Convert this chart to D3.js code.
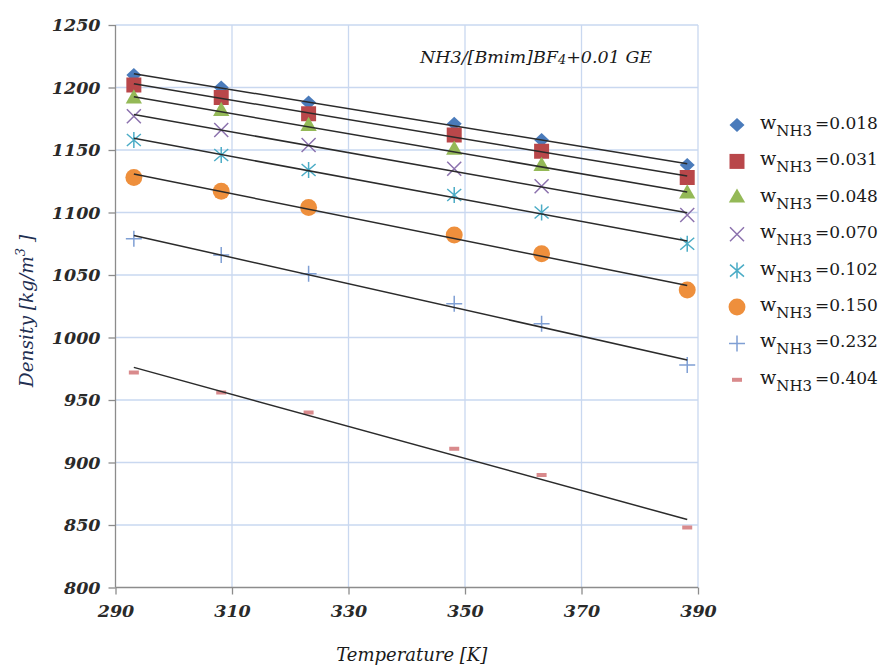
<!DOCTYPE html>
<html><head><meta charset="utf-8">
<script src="https://cdn.jsdelivr.net/npm/d3@7"></script>
<style>body{margin:0;background:#fff}svg{display:block}</style>
</head><body>
<svg id="c" width="880" height="668"></svg>
<script>
const temperatures = [293.15, 308.15, 323.15, 348.15, 363.15, 388.15];
const fractions = ["0.018", "0.031", "0.048", "0.070", "0.102", "0.150", "0.232", "0.404"];
const w018 = [1210, 1200, 1188, 1171, 1158, 1138];
const w031 = [1202, 1192, 1179, 1162, 1149, 1128];
const w048 = [1191, 1181, 1169, 1150, 1137, 1115];
const w070 = [1177, 1166, 1154, 1135, 1121, 1098];
const w102 = [1158, 1146, 1134, 1114, 1100, 1075];
const w150 = [1128, 1117, 1104, 1082, 1067, 1038];
const w232 = [1079, 1066, 1051, 1027, 1011, 978];
const w404 = [972, 956, 940, 911, 890, 848];
const xTicks = [290, 310, 330, 350, 370, 390];
const yTicks = [800, 850, 900, 950, 1000, 1050, 1100, 1150, 1200, 1250];
const seriesValues = [w018, w031, w048, w070, w102, w150, w232, w404];
const colors = ["#4a7bbb", "#b9474a", "#94b957", "#8c72ae", "#4bacc6", "#ee8f3c", "#7f9fd4", "#d98a8c"];
const shapes = ["diamond", "square", "triangle", "x", "star", "circle", "plus", "dash"];

const svg = d3.select("#c");
const L = 115.5, R = 698, T = 25, B = 587.5;
const x = d3.scaleLinear().domain([290, 390]).range([L, R]);
const y = d3.scaleLinear().domain([800, 1250]).range([B, T]);
const grid = "#c9d8f0";

// gridlines
svg.append("g").selectAll("line").data(yTicks.filter(d => d > 800)).join("line")
  .attr("x1", L).attr("x2", R).attr("y1", d => y(d)).attr("y2", d => y(d))
  .attr("stroke", grid).attr("stroke-width", 1.3);
svg.append("g").selectAll("line").data(xTicks.filter(d => d > 290)).join("line")
  .attr("y1", T).attr("y2", B).attr("x1", d => x(d)).attr("x2", d => x(d))
  .attr("stroke", grid).attr("stroke-width", 1.3);

const tickFont = "'DejaVu Serif', serif";
const yAxis = svg.append("g").attr("transform", `translate(${L},0)`)
  .call(d3.axisLeft(y).tickValues(yTicks).tickSize(7).tickPadding(8).tickFormat(d3.format("d")));
const xAxis = svg.append("g").attr("transform", `translate(0,${B})`)
  .call(d3.axisBottom(x).tickValues(xTicks).tickSize(7).tickPadding(10).tickFormat(d3.format("d")));
[yAxis, xAxis].forEach(a => {
  a.select(".domain").attr("stroke", "#8c8c8c").attr("stroke-width", 1.3);
  a.selectAll(".tick line").attr("stroke", "#8c8c8c").attr("stroke-width", 1.3);
  a.selectAll(".tick text").attr("font-family", tickFont).attr("font-size", 17.5)
    .attr("font-weight", "bold").attr("font-style", "italic").attr("fill", "#2a2a2a");
});
xAxis.select(".domain").attr("d", `M${L},0H${R}`);
yAxis.select(".domain").attr("d", `M0,${B}V${T}`);

// axis titles
svg.append("text").attr("x", (L + R) / 2 + 5).attr("y", 661).attr("text-anchor", "middle")
  .attr("font-family", tickFont).attr("font-style", "italic").attr("font-size", 18)
  .attr("fill", "#1a1a1a").text("Temperature [K]");
const yt = svg.append("text").attr("transform", "translate(33,311) rotate(-90)").attr("text-anchor", "middle")
  .attr("font-family", tickFont).attr("font-style", "italic").attr("font-size", 18.5).attr("fill", "#1f2f52");
yt.append("tspan").text("Density [kg/m");
yt.append("tspan").attr("dy", -8).attr("font-size", 13).text("3");
yt.append("tspan").attr("dy", 8).text(" ]");

// chart title
const tt = svg.append("text").attr("x", 420).attr("y", 63)
  .attr("font-family", tickFont).attr("font-style", "italic").attr("font-size", 17.5).attr("fill", "#1a1a1a");
tt.append("tspan").text("NH3/[Bmim]BF");
tt.append("tspan").attr("font-size", 13).attr("dy", 1).text("4");
tt.append("tspan").attr("dy", -1).text("+0.01 GE");

// markers
function drawMarker(g, shape, color) {
  const sym = {square: [d3.symbolSquare, 225], triangle: [d3.symbolTriangle, 115], circle: [d3.symbolCircle, 225]};
  if (sym[shape]) {
    g.append("path").attr("d", d3.symbol().type(sym[shape][0]).size(sym[shape][1])()).attr("fill", color);
  } else if (shape === "diamond") {
    g.append("path").attr("d", "M0,-7L7.5,0L0,7L-7.5,0Z").attr("fill", color);
  } else if (shape === "x") {
    g.append("path").attr("d", "M-7,-7L7,7M-7,7L7,-7").attr("stroke", color).attr("stroke-width", 1.5);
  } else if (shape === "star") {
    g.append("path").attr("d", "M-7,-6L7,6M-7,6L7,-6M0,-8V8").attr("stroke", color).attr("stroke-width", 1.5);
  } else if (shape === "plus") {
    g.append("path").attr("d", "M-8,0H8M0,-8V8").attr("stroke", color).attr("stroke-width", 1.5);
  } else if (shape === "dash") {
    g.append("rect").attr("x", -5).attr("y", -2).attr("width", 10).attr("height", 4).attr("fill", color);
  }
}

seriesValues.forEach((vals, i) => {
  const g = svg.append("g");
  vals.forEach((v, j) => {
    const m = g.append("g").attr("transform", `translate(${x(temperatures[j])},${y(v)})`);
    drawMarker(m, shapes[i], colors[i]);
  });
});

// linear trend lines (least squares fits of each series)
seriesValues.forEach(vals => {
  const n = vals.length;
  const mx = d3.mean(temperatures), my = d3.mean(vals);
  let sxy = 0, sxx = 0;
  for (let k = 0; k < n; k++) { sxy += (temperatures[k] - mx) * (vals[k] - my); sxx += (temperatures[k] - mx) ** 2; }
  const b = sxy / sxx, a = my - b * mx;
  const t0 = temperatures[0], t1 = temperatures[n - 1];
  svg.append("line").attr("x1", x(t0)).attr("y1", y(a + b * t0)).attr("x2", x(t1)).attr("y2", y(a + b * t1))
    .attr("stroke", "#2b2b2b").attr("stroke-width", 1.5);
});

// legend
const lg = svg.append("g");
fractions.forEach((f, i) => {
  const cy = 125 + i * 36.4;
  const m = lg.append("g").attr("transform", `translate(737,${cy})`);
  drawMarker(m, shapes[i], colors[i]);
  const t = lg.append("text").attr("x", 760).attr("y", cy + 4)
    .attr("font-family", tickFont).attr("font-size", 17).attr("fill", "#1a1a1a");
  t.append("tspan").attr("font-size", 19).text("w");
  t.append("tspan").attr("dy", 7).attr("font-size", 15).text("NH3");
  t.append("tspan").attr("dy", -7).attr("dx", 3).text("=" + f);
});
</script>
</body></html>
